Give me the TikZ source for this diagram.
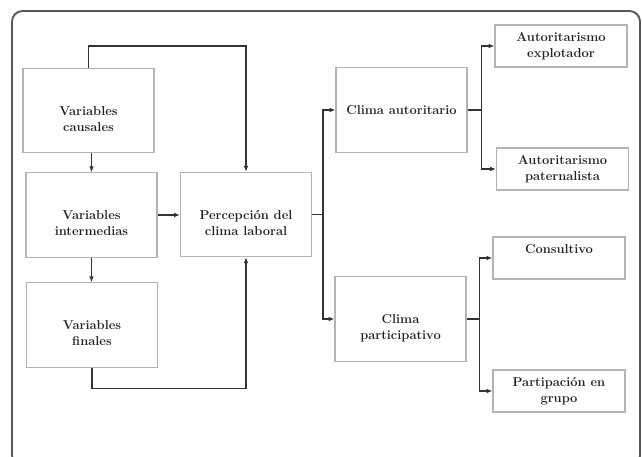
\documentclass[tikz,border=0pt]{standalone}
\usepackage{tikz}
\usetikzlibrary{arrows.meta}

\definecolor{linegray}{HTML}{333333}
\definecolor{textgray}{HTML}{222222}
\definecolor{boxgray}{HTML}{B4B4B4}
\definecolor{framegray}{HTML}{585858}

\tikzset{
  bigbox/.style={draw=boxgray, line width=0.9pt, minimum width=3.93cm, minimum height=2.53cm,
    inner sep=0pt, align=center, text=textgray,
    font=\fontsize{11}{13.6}\selectfont\bfseries},
  smallbox/.style={bigbox, minimum width=3.96cm, minimum height=1.26cm},
  lowtext/.style={text height=35pt, text depth=0pt},
  hightext/.style={text height=7pt, text depth=15pt},
  conn/.style={draw=linegray, line width=1.2pt},
  arr/.style={conn, -{Latex[length=5pt,width=4pt]}}
}

\begin{document}
\begin{tikzpicture}[x=0.03cm, y=-0.03cm]
  \useasboundingbox (0,0) rectangle (642,457);

  % Outer frame, open at the bottom
  \begin{scope}
    \clip (0,0) rectangle (642,457);
    \draw[framegray, line width=1.6pt, rounded corners=9pt] (12,11) rectangle (640,466);
  \end{scope}

  % Left column
  \node[bigbox, lowtext] (causales) at (88.5,110.5) {Variables\\causales};
  \node[bigbox, lowtext] (intermedias) at (91.5,215) {Variables\\intermedias};
  \node[bigbox, lowtext] (finales) at (92,325) {Variables\\finales};
  \node[bigbox, lowtext] (percepcion) at (246,214.5) {Percepción del\\clima laboral};

  % Climate types
  \node[bigbox] (autoritario) at (401.5,110) {Clima autoritario};
  \node[bigbox, lowtext] (participativo) at (400.5,319) {Clima\\participativo};

  % Subtypes
  \node[smallbox] (explotador) at (561,46) {Autoritarismo\\explotador};
  \node[smallbox] (paternalista) at (562.5,169) {Autoritarismo\\paternalista};
  \node[smallbox, hightext] (consultivo) at (559,258) {Consultivo};
  \node[smallbox] (grupo) at (559,391) {Partipación en\\grupo};

  % Connectors
  \draw[arr] (causales.north) -- ++(0,-22) -| (percepcion.north);
  \draw[arr] (causales.south -| intermedias) -- (intermedias.north);
  \draw[arr] (intermedias.south) -- (intermedias.south |- finales.north);
  \draw[arr] (intermedias.east) -- (intermedias.east -| percepcion.west);
  \draw[arr] (finales.south) -- ++(0,21) -| (percepcion.south);

  \draw[conn] (percepcion.east) -- ++(11,0) coordinate (split1);
  \draw[arr] (split1) |- (autoritario.west);
  \draw[arr] (split1) |- (participativo.west);

  \draw[conn] (autoritario.east) -- ++(14,0) coordinate (split2);
  \draw[arr] (split2) |- (explotador.west);
  \draw[arr] (split2) |- (paternalista.west);

  \draw[conn] (participativo.east) -- ++(13,0) coordinate (split3);
  \draw[arr] (split3) |- (consultivo.west);
  \draw[arr] (split3) |- (grupo.west);
\end{tikzpicture}
\end{document}
